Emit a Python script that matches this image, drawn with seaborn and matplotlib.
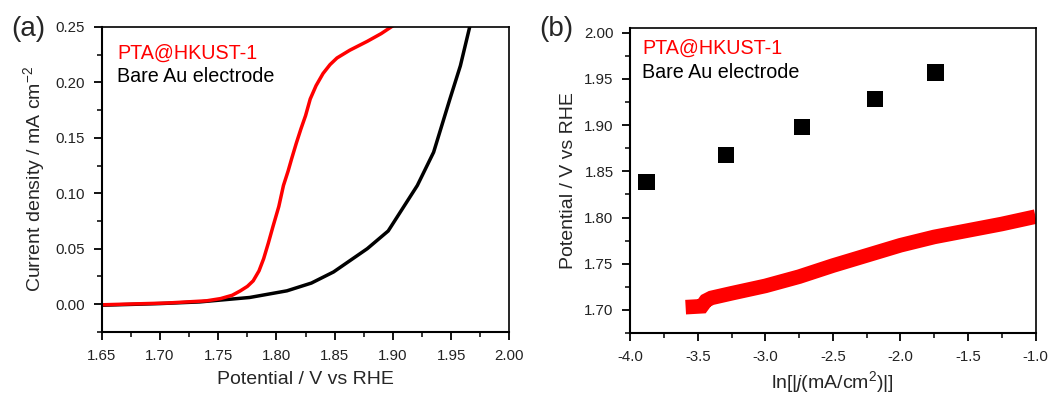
import numpy as np
import pandas as pd
import matplotlib
matplotlib.use("Agg")
import matplotlib.pyplot as plt
import seaborn as sns
from matplotlib.ticker import MultipleLocator, FormatStrFormatter

# ---- data ----
# panel (a): LSV curves
bare_x = [1.65, 1.70, 1.734, 1.777, 1.809, 1.830, 1.849, 1.878, 1.896, 1.921, 1.935, 1.949, 1.958, 1.966]
bare_y = [-0.001, 0.0005, 0.002, 0.006, 0.012, 0.019, 0.029, 0.050, 0.066, 0.107, 0.137, 0.185, 0.215, 0.25]
pta_x = [1.65, 1.706, 1.740, 1.752, 1.762, 1.769, 1.775, 1.780, 1.785, 1.789, 1.793, 1.797,
         1.802, 1.806, 1.810, 1.813, 1.817, 1.821, 1.825, 1.829, 1.834, 1.840, 1.846, 1.852,
         1.863, 1.878, 1.890, 1.900]
pta_y = [-0.0006, 0.001, 0.003, 0.005, 0.008, 0.012, 0.016, 0.021, 0.030, 0.041, 0.055, 0.070,
         0.088, 0.107, 0.120, 0.131, 0.145, 0.158, 0.170, 0.185, 0.197, 0.208, 0.216, 0.222,
         0.229, 0.237, 0.244, 0.251]

# panel (b): Tafel plots
tafel_bare_x = [-3.88, -3.29, -2.73, -2.19, -1.74]
tafel_bare_y = [1.838, 1.868, 1.898, 1.928, 1.957]
tafel_pta_x = [-3.59, -3.47, -3.44, -3.40, -3.25, -3.00, -2.75, -2.50, -2.25, -2.00, -1.75, -1.50, -1.25, -1.00]
tafel_pta_y = [1.703, 1.704, 1.710, 1.713, 1.718, 1.726, 1.736, 1.748, 1.759, 1.770, 1.779, 1.786, 1.793, 1.801]

series_names = ["PTA@HKUST-1", "Bare Au electrode"]
colors = ["#ff0000", "#000000"]

sns.set_theme(style="ticks")
plt.rcParams["font.family"] = ["Liberation Sans", "DejaVu Sans"]
plt.rcParams["mathtext.fontset"] = "custom"
plt.rcParams["mathtext.rm"] = "Liberation Sans"
plt.rcParams["mathtext.it"] = "Liberation Sans:italic"

fig = plt.figure(figsize=(10.61, 3.96), dpi=100)
axa = fig.add_axes([0.096, 0.162, 0.384, 0.770])
axb = fig.add_axes([0.594, 0.159, 0.382, 0.770])

# ---- panel (a) ----
sns.lineplot(x=bare_x, y=bare_y, ax=axa, color=colors[1], sort=False)
sns.lineplot(x=pta_x, y=pta_y, ax=axa, color=colors[0], sort=False)
for ln in axa.get_lines():
    ln.set_linewidth(2.5)
    ln.set_solid_joinstyle("round")
axa.set_xlim(1.65, 2.00)
axa.set_ylim(-0.025, 0.25)
axa.xaxis.set_major_locator(MultipleLocator(0.05))
axa.xaxis.set_minor_locator(MultipleLocator(0.025))
axa.yaxis.set_major_locator(MultipleLocator(0.05))
axa.yaxis.set_minor_locator(MultipleLocator(0.025))
axa.xaxis.set_major_formatter(FormatStrFormatter("%.2f"))
axa.yaxis.set_major_formatter(FormatStrFormatter("%.2f"))
axa.set_xlabel("Potential / V vs RHE", fontsize=14, labelpad=6)
axa.set_ylabel("Current density / mA cm$^{-2}$", fontsize=14, labelpad=6)
axa.text(0.037, 0.915, series_names[0], color=colors[0], transform=axa.transAxes,
         fontsize=14.2, va="center", ha="left")
axa.text(0.037, 0.836, series_names[1], color=colors[1], transform=axa.transAxes,
         fontsize=14.2, va="center", ha="left")

# ---- panel (b) ----
sns.lineplot(x=tafel_pta_x, y=tafel_pta_y, ax=axb, color=colors[0], sort=False)
for ln in axb.get_lines():
    ln.set_linewidth(10.5)
    ln.set_solid_capstyle("butt")
    ln.set_solid_joinstyle("miter")
sns.scatterplot(x=tafel_bare_x, y=tafel_bare_y, ax=axb, color=colors[1], marker="s",
                s=135, edgecolor="none")
axb.set_xlim(-4.0, -1.0)
axb.set_ylim(1.675, 2.005)
axb.xaxis.set_major_locator(MultipleLocator(0.5))
axb.xaxis.set_minor_locator(MultipleLocator(0.25))
axb.yaxis.set_major_locator(MultipleLocator(0.05))
axb.yaxis.set_minor_locator(MultipleLocator(0.025))
axb.xaxis.set_major_formatter(FormatStrFormatter("%.1f"))
axb.yaxis.set_major_formatter(FormatStrFormatter("%.2f"))
axb.set_xlabel("ln[|$\\it{j}$(mA/cm$^{2}$)|]", fontsize=14, labelpad=4)
axb.set_ylabel("Potential / V vs RHE", fontsize=14, labelpad=5)
axb.text(0.029, 0.934, series_names[0], color=colors[0], transform=axb.transAxes,
         fontsize=14.2, va="center", ha="left")
axb.text(0.029, 0.855, series_names[1], color=colors[1], transform=axb.transAxes,
         fontsize=14.2, va="center", ha="left")

for ax in (axa, axb):
    for side in ("top", "right", "left", "bottom"):
        ax.spines[side].set_visible(True)
        ax.spines[side].set_color("black")
        ax.spines[side].set_linewidth(1.2)
    ax.spines["left"].set_linewidth(1.5)
    ax.spines["bottom"].set_linewidth(1.5)
    ax.tick_params(which="major", direction="out", length=6, width=1.3, labelsize=10.8,
                   pad=6, color="black", labelcolor="#222222", top=False, right=False)
    ax.tick_params(which="minor", direction="out", length=3.5, width=1.1,
                   color="black", top=False, right=False)

fig.text(0.027, 0.928, "(a)", fontsize=20, ha="center", va="center")
fig.text(0.524, 0.928, "(b)", fontsize=20, ha="center", va="center")

fig.savefig("out.png", dpi=100)
